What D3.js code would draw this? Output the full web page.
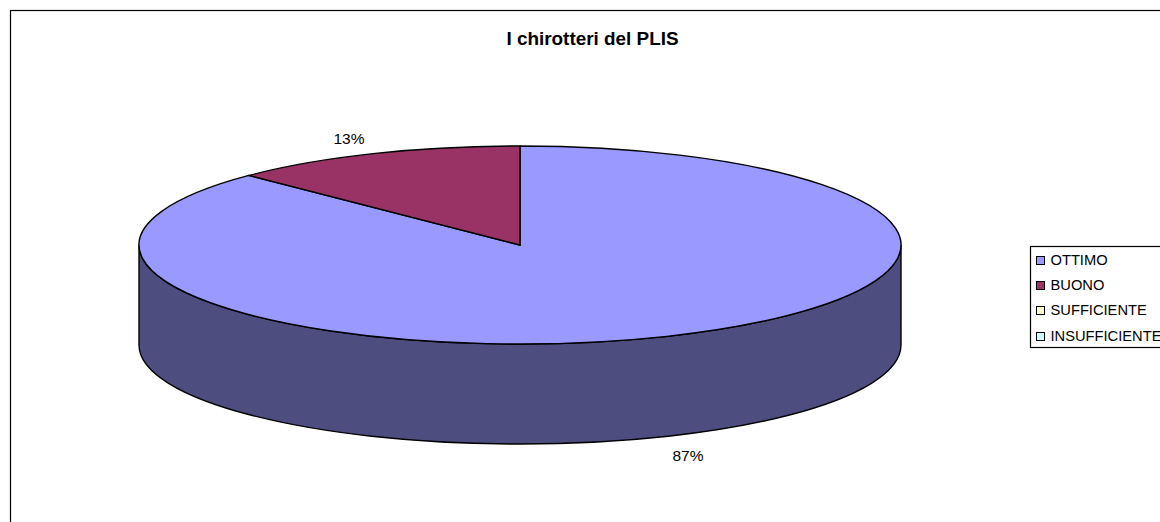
<!DOCTYPE html>
<html><head><meta charset="utf-8">
<script src="https://cdn.jsdelivr.net/npm/d3@7/dist/d3.min.js"></script>
<style>html,body{margin:0;padding:0;background:#fff;overflow:hidden}svg{display:block}text{font-family:"Liberation Sans",Arial,sans-serif;fill:#000}</style>
</head><body><svg id="c" width="1160" height="522"></svg>
<script>
const titleText = "I chirotteri del PLIS";
const categories = ["OTTIMO","BUONO","SUFFICIENTE","INSUFFICIENTE"];
const values = [87.4,12.6,0,0];
const colors = ["#9999FF","#993366","#FFFFCC","#CCFFFF"];
const sideColor = "#4D4D80";

const W=1160,H=522, cx=520, cy=245, rx=381, ry=99, depth=100;
const svg=d3.select("#c").attr("viewBox",`0 0 ${W} ${H}`);
svg.append("rect").attr("x",10.5).attr("y",10.5).attr("width",W+20).attr("height",H+20).attr("fill","#fff").attr("stroke","#000").attr("stroke-width",1.2);
svg.append("text").attr("x",592.5).attr("y",45).attr("text-anchor","middle").attr("font-size",18.9).attr("font-weight","bold").text(titleText);

const total=d3.sum(values);
const pct=d3.format(".0%");
const arcs=d3.pie().sort(null).value(d=>d)(values);

// side wall: lower half of the ellipse extruded downward
const k=0.5523;
const side=d3.path();
side.moveTo(cx-rx,cy);
side.lineTo(cx-rx,cy+depth);
side.bezierCurveTo(cx-rx,cy+depth+ry*k,cx-rx*k,cy+depth+ry,cx,cy+depth+ry);
side.bezierCurveTo(cx+rx*k,cy+depth+ry,cx+rx,cy+depth+ry*k,cx+rx,cy+depth);
side.lineTo(cx+rx,cy);
side.bezierCurveTo(cx+rx,cy+ry*k,cx+rx*k,cy+ry,cx,cy+ry);
side.bezierCurveTo(cx-rx*k,cy+ry,cx-rx,cy+ry*k,cx-rx,cy);
side.closePath();
svg.append("path").attr("d",side.toString()).attr("fill",sideColor).attr("stroke","#000").attr("stroke-width",1.4);

// top face: d3.arc squashed to an ellipse
const arc=d3.arc().innerRadius(0).outerRadius(rx);
svg.append("g").attr("transform",`translate(${cx},${cy}) scale(1,${ry/rx})`)
  .selectAll("path").data(arcs.filter(d=>d.value>0)).join("path")
  .attr("d",arc).attr("fill",d=>colors[d.index])
  .attr("stroke","#000").attr("stroke-width",1.4).attr("vector-effect","non-scaling-stroke");

// percentage labels
const labelPos=[[688,461],[349,144]];
arcs.filter(d=>d.value>0).forEach((d,i)=>{
  svg.append("text").attr("x",labelPos[i][0]).attr("y",labelPos[i][1]).attr("text-anchor","middle")
    .attr("font-size",15.5).text(pct(d.value/total));
});

// legend
const lg=svg.append("g");
lg.append("rect").attr("x",1030.5).attr("y",246.5).attr("width",160).attr("height",101).attr("fill","#fff").attr("stroke","#000").attr("stroke-width",1.2);
const ly=d3.scalePoint().domain(categories).range([260,335.5]);
categories.forEach((c,i)=>{
  lg.append("rect").attr("x",1036.5).attr("y",Math.round(ly(c))-3.5).attr("width",8).attr("height",8).attr("fill",colors[i]).attr("stroke","#000");
  lg.append("text").attr("x",1050.5).attr("y",ly(c)+5).attr("font-size",14.7).text(c);
});
</script></body></html>
